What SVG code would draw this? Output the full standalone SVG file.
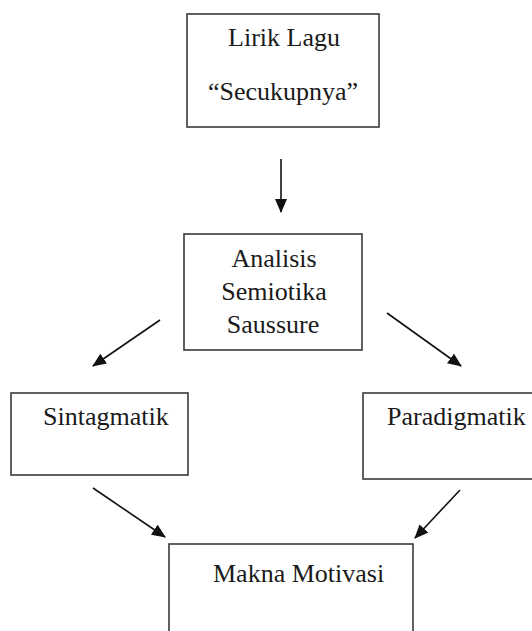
<svg xmlns="http://www.w3.org/2000/svg" width="532" height="631" viewBox="0 0 532 631">
<style>
.box{fill:#fff;stroke:#3a3a3a;stroke-width:1.6}
.t{font-family:"Liberation Serif","Times New Roman",serif;font-size:26px;fill:#1a1a1a}
.c{text-anchor:middle}
.e{stroke:#111;stroke-width:1.6;fill:none;marker-end:url(#ah)}
</style>
<defs>
<marker id="ah" viewBox="0 0 14 12" refX="13" refY="6" markerWidth="14" markerHeight="12" markerUnits="userSpaceOnUse" orient="auto">
<path d="M0,0 L14,6 L0,12 z" fill="#111"/>
</marker>
</defs>
<rect width="532" height="631" fill="#fff"/>
<g id="lirik">
<rect class="box" x="187" y="14" width="192" height="113"/>
<text class="t c" x="284" y="46">Lirik Lagu</text>
<text class="t c" x="283" y="100">“Secukupnya”</text>
</g>
<g id="analisis">
<rect class="box" x="184" y="234" width="178" height="116"/>
<text class="t c" x="274" y="267">Analisis</text>
<text class="t c" x="274" y="300">Semiotika</text>
<text class="t c" x="273" y="333">Saussure</text>
</g>
<g id="sintagmatik">
<rect class="box" x="11" y="393" width="177" height="82"/>
<text class="t" x="43" y="425">Sintagmatik</text>
</g>
<g id="paradigmatik">
<rect class="box" x="363" y="393" width="180" height="86"/>
<text class="t" x="387" y="425">Paradigmatik</text>
</g>
<g id="makna">
<rect class="box" x="169" y="544" width="244" height="100"/>
<text class="t" x="213" y="582">Makna Motivasi</text>
</g>
<g id="connectors">
<line class="e" x1="281" y1="159" x2="281" y2="212"/>
<line class="e" x1="160" y1="320" x2="93" y2="366"/>
<line class="e" x1="387" y1="313" x2="461" y2="366"/>
<line class="e" x1="93" y1="488" x2="165" y2="537"/>
<line class="e" x1="460" y1="490" x2="415" y2="538"/>
</g>
</svg>
